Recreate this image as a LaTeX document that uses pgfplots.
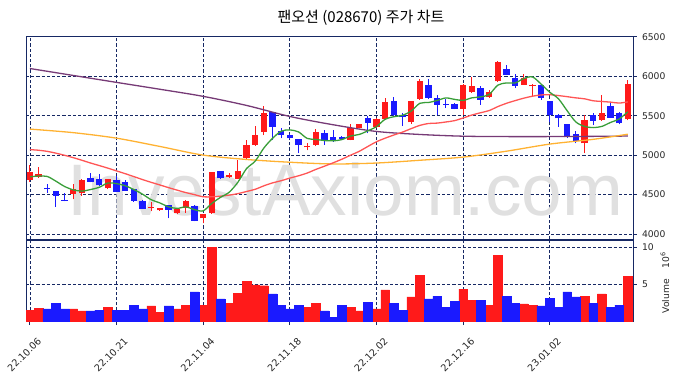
\documentclass[border=0pt]{standalone}
\usepackage{fontspec}
\setmainfont{DejaVu Sans}
\newfontfamily\cjk{Noto Sans CJK KR}
\newfontfamily\wm{Liberation Sans}
\usepackage{pgfplots}
\pgfplotsset{compat=1.18}
\usepackage{pgfplotstable}

\definecolor{navy}{RGB}{22,40,100}
\definecolor{cred}{RGB}{255,26,26}
\definecolor{cblue}{RGB}{26,26,255}
\definecolor{mgreen}{RGB}{56,158,56}
\definecolor{mred}{RGB}{255,85,85}
\definecolor{morange}{RGB}{255,178,50}
\definecolor{mpurple}{RGB}{118,58,118}

% up candles: index, open, high, low, close, volume (millions)
\pgfplotstableread{
i O H L C V
0 4690 4870 4660 4790 1.49
1 4725 4845 4715 4765 1.76
5 4505 4630 4440 4575 1.63
6 4515 4695 4480 4685 1.36
9 4580 4700 4570 4695 1.90
14 4333 4400 4290 4345 2.04
15 4300 4335 4295 4330 1.22
17 4262 4325 4250 4320 1.63
18 4335 4430 4270 4420 2.17
20 4200 4260 4135 4255 2.17
21 4262 4790 4255 4780 10.0
23 4720 4770 4715 4745 2.44
24 4702 4940 4695 4800 3.80
25 4968 5190 4937 5125 5.43
26 5127 5365 5120 5253 4.89
27 5295 5620 5255 5530 4.80
32 5098 5150 5060 5115 1.90
33 5127 5325 5115 5295 2.44
37 5192 5390 5188 5346 1.90
38 5346 5400 5340 5393 1.36
40 5358 5470 5340 5456 1.63
41 5452 5726 5440 5671 4.21
44 5414 5690 5400 5680 3.26
45 5713 5971 5705 5941 6.24
50 5591 5900 5510 5884 4.34
51 5800 5990 5790 5880 2.85
53 5740 5830 5730 5795 2.17
54 5936 6190 5930 6180 8.96
57 5895 6030 5890 5979 2.31
58 5872 5900 5740 5886 2.17
64 5148 5507 5021 5443 3.39
66 5447 5768 5430 5540 3.67
69 5452 5958 5440 5899 6.11
}\redc

% down candles
\pgfplotstableread{
i O H L C V
2 4580 4640 4520 4566 1.63
3 4545 4550 4345 4480 2.44
4 4432 4520 4415 4420 1.63
7 4710 4770 4655 4660 1.36
8 4695 4755 4615 4620 1.49
10 4685 4740 4530 4535 1.49
11 4660 4690 4545 4550 1.49
12 4565 4570 4410 4420 2.17
13 4418 4430 4317 4322 1.63
16 4365 4370 4200 4305 2.04
19 4360 4365 4160 4170 3.94
22 4798 4802 4695 4705 2.99
28 5542 5550 5190 5358 3.67
29 5308 5350 5211 5250 2.17
30 5253 5262 5200 5211 1.63
31 5203 5210 5021 5127 2.17
34 5275 5320 5130 5181 1.36
35 5232 5320 5170 5182 0.54
36 5226 5240 5190 5208 2.17
39 5472 5490 5275 5409 2.58
42 5684 5740 5500 5507 2.44
43 5507 5540 5367 5478 1.49
46 5886 5971 5710 5726 2.99
47 5726 5760 5507 5637 3.39
48 5650 5713 5595 5640 1.90
49 5646 5660 5580 5587 2.71
52 5850 5870 5640 5700 2.85
55 6098 6140 6010 6022 3.39
56 5979 6030 5850 5877 2.44
59 5886 5890 5700 5726 2.04
60 5684 5690 5420 5507 3.12
61 5515 5520 5358 5465 1.90
62 5393 5395 5215 5224 3.94
63 5266 5300 5150 5181 3.26
65 5515 5540 5380 5434 2.44
67 5620 5660 5470 5472 1.90
68 5528 5550 5390 5401 2.17
}\bluec

% 5-day and 20-day moving averages
\pgfplotstableread{
i ma5 ma20
0 4725 5070
1 4735 5062
2 4730 5048
3 4670 5025
4 4603 4998
5 4560 4968
6 4544 4935
7 4564 4900
8 4592 4868
9 4647 4835
10 4639 4800
11 4612 4765
12 4564 4728
13 4505 4690
14 4435 4655
15 4394 4622
16 4345 4588
17 4325 4556
18 4344 4525
19 4309 4499
20 4294 4472
21 4389 4472
22 4465 4480
23 4530 4493
24 4656 4512
25 4829 4539
26 4924 4567
27 5090 4611
28 5213 4648
29 5303 4676
30 5320 4709
31 5294 4738
32 5212 4773
33 5199 4819
34 5185 4860
35 5181 4903
36 5197 4948
37 5242 4999
38 5262 5048
39 5308 5110
40 5362 5170
41 5455 5215
42 5487 5255
43 5505 5292
44 5559 5336
45 5657 5377
46 5667 5401
47 5693 5406
48 5725 5420
49 5707 5437
50 5694 5471
51 5726 5508
52 5738 5537
53 5769 5565
54 5887 5615
55 5915 5657
56 5915 5691
57 5971 5722
58 5991 5747
59 5900 5763
60 5797 5766
61 5714 5755
62 5563 5741
63 5421 5726
64 5364 5714
65 5349 5689
66 5364 5680
67 5414 5672
68 5458 5660
69 5549 5675
}\mashort

% 60-day and 120-day moving averages
\pgfplotstableread{
i ma60 ma120
0 5330 6098
5 5285 6010
10 5215 5922
15 5110 5835
20 5000 5745
25 4945 5630
30 4910 5490
35 4888 5385
40 4900 5300
45 4935 5262
50 4975 5240
55 5050 5235
60 5140 5235
65 5200 5238
69 5265 5242
}\malong

\pgfplotsset{
  chartbase/.style={
    scale only axis, width=607pt,
    xmin=-0.45, xmax=69.6,
    axis line style={draw=navy, line width=0.9pt},
    xtick={0,10,20,30,40,50,60},
    xmajorgrids, ymajorgrids,
    grid style={draw=navy, line width=0.75pt, dash pattern=on 3.2pt off 2pt},
    ytick pos=right, yticklabel pos=right,
    tick align=outside,
    major tick length=4pt,
    tick style={draw=navy, line width=0.8pt},
    yticklabel style={font=\fontsize{9.2}{10}\selectfont, text=black!85, xshift=1.5pt},
  },
  wick/.style={draw=none, mark=none, forget plot,
    error bars/.cd, y dir=plus, y explicit, error mark=none,
    error bar style={draw=#1, line width=1pt, solid}},
  body/.style={draw=none, mark=none, forget plot,
    error bars/.cd, y dir=plus, y explicit, error mark=none,
    error bar style={draw=#1, line width=6.5pt, solid}},
}

\begin{document}
\begin{tikzpicture}
\useasboundingbox (0pt,0pt) rectangle (686pt,378pt);
\node[font=\fontsize{15}{17}\cjk, text=black] at (361pt,360pt) {팬오션 (028670) 주가 차트};

\begin{axis}[chartbase,
  at={(26pt,139pt)}, anchor=south west, height=203pt,
  ymin=3937, ymax=6510,
  ytick={4000,4500,5000,5500,6000,6500},
  yticklabels={4000,4500,5000,5500,6000,6500},
  xticklabels={}, xtick style={draw=none},
]
\node[anchor=base, font=\fontsize{73}{80}\wm, text=black!12] at (axis cs:36.4,4240) {InvestAxiom.com};
\addplot[wick=cred] table[x=i, y=L, y error expr=\thisrow{H}-\thisrow{L}] {\redc};
\addplot[body=cred] table[x=i, y=O, y error expr=\thisrow{C}-\thisrow{O}] {\redc};
\addplot[wick=cblue] table[x=i, y=L, y error expr=\thisrow{H}-\thisrow{L}] {\bluec};
\addplot[body=cblue] table[x=i, y=C, y error expr=\thisrow{O}-\thisrow{C}] {\bluec};
\addplot[color=mpurple, line width=1.3pt, smooth] table[x=i, y=ma120] {\malong};
\addplot[color=morange, line width=1.3pt, smooth] table[x=i, y=ma60] {\malong};
\addplot[color=mred, line width=1.3pt, smooth] table[x=i, y=ma20] {\mashort};
\addplot[color=mgreen, line width=1.3pt, smooth] table[x=i, y=ma5] {\mashort};
\end{axis}

\begin{axis}[chartbase,
  at={(26pt,57pt)}, anchor=south west, height=81pt,
  ymin=0, ymax=11,
  ytick={5,10}, yticklabels={5,10},
  xtick pos=left,
  xticklabels={22.10.06,22.10.21,22.11.04,22.11.18,22.12.02,22.12.16,23.01.02},
  xticklabel style={font=\fontsize{9.6}{10}\selectfont, text=black!85, xshift=12pt, yshift=-12pt, rotate=45, anchor=east},
  ylabel={Volume\hspace{11pt}10\textsuperscript{6}},
  ylabel style={font=\fontsize{9.2}{10}\selectfont, text=black!85, xshift=-2pt},
]
\addplot[ybar, bar width=8.7pt, bar shift=0pt, fill=cred, draw=cred, line width=0.2pt] table[x=i, y=V] {\redc};
\addplot[ybar, bar width=8.7pt, bar shift=0pt, fill=cblue, draw=cblue, line width=0.2pt] table[x=i, y=V] {\bluec};
\end{axis}
\end{tikzpicture}
\end{document}
